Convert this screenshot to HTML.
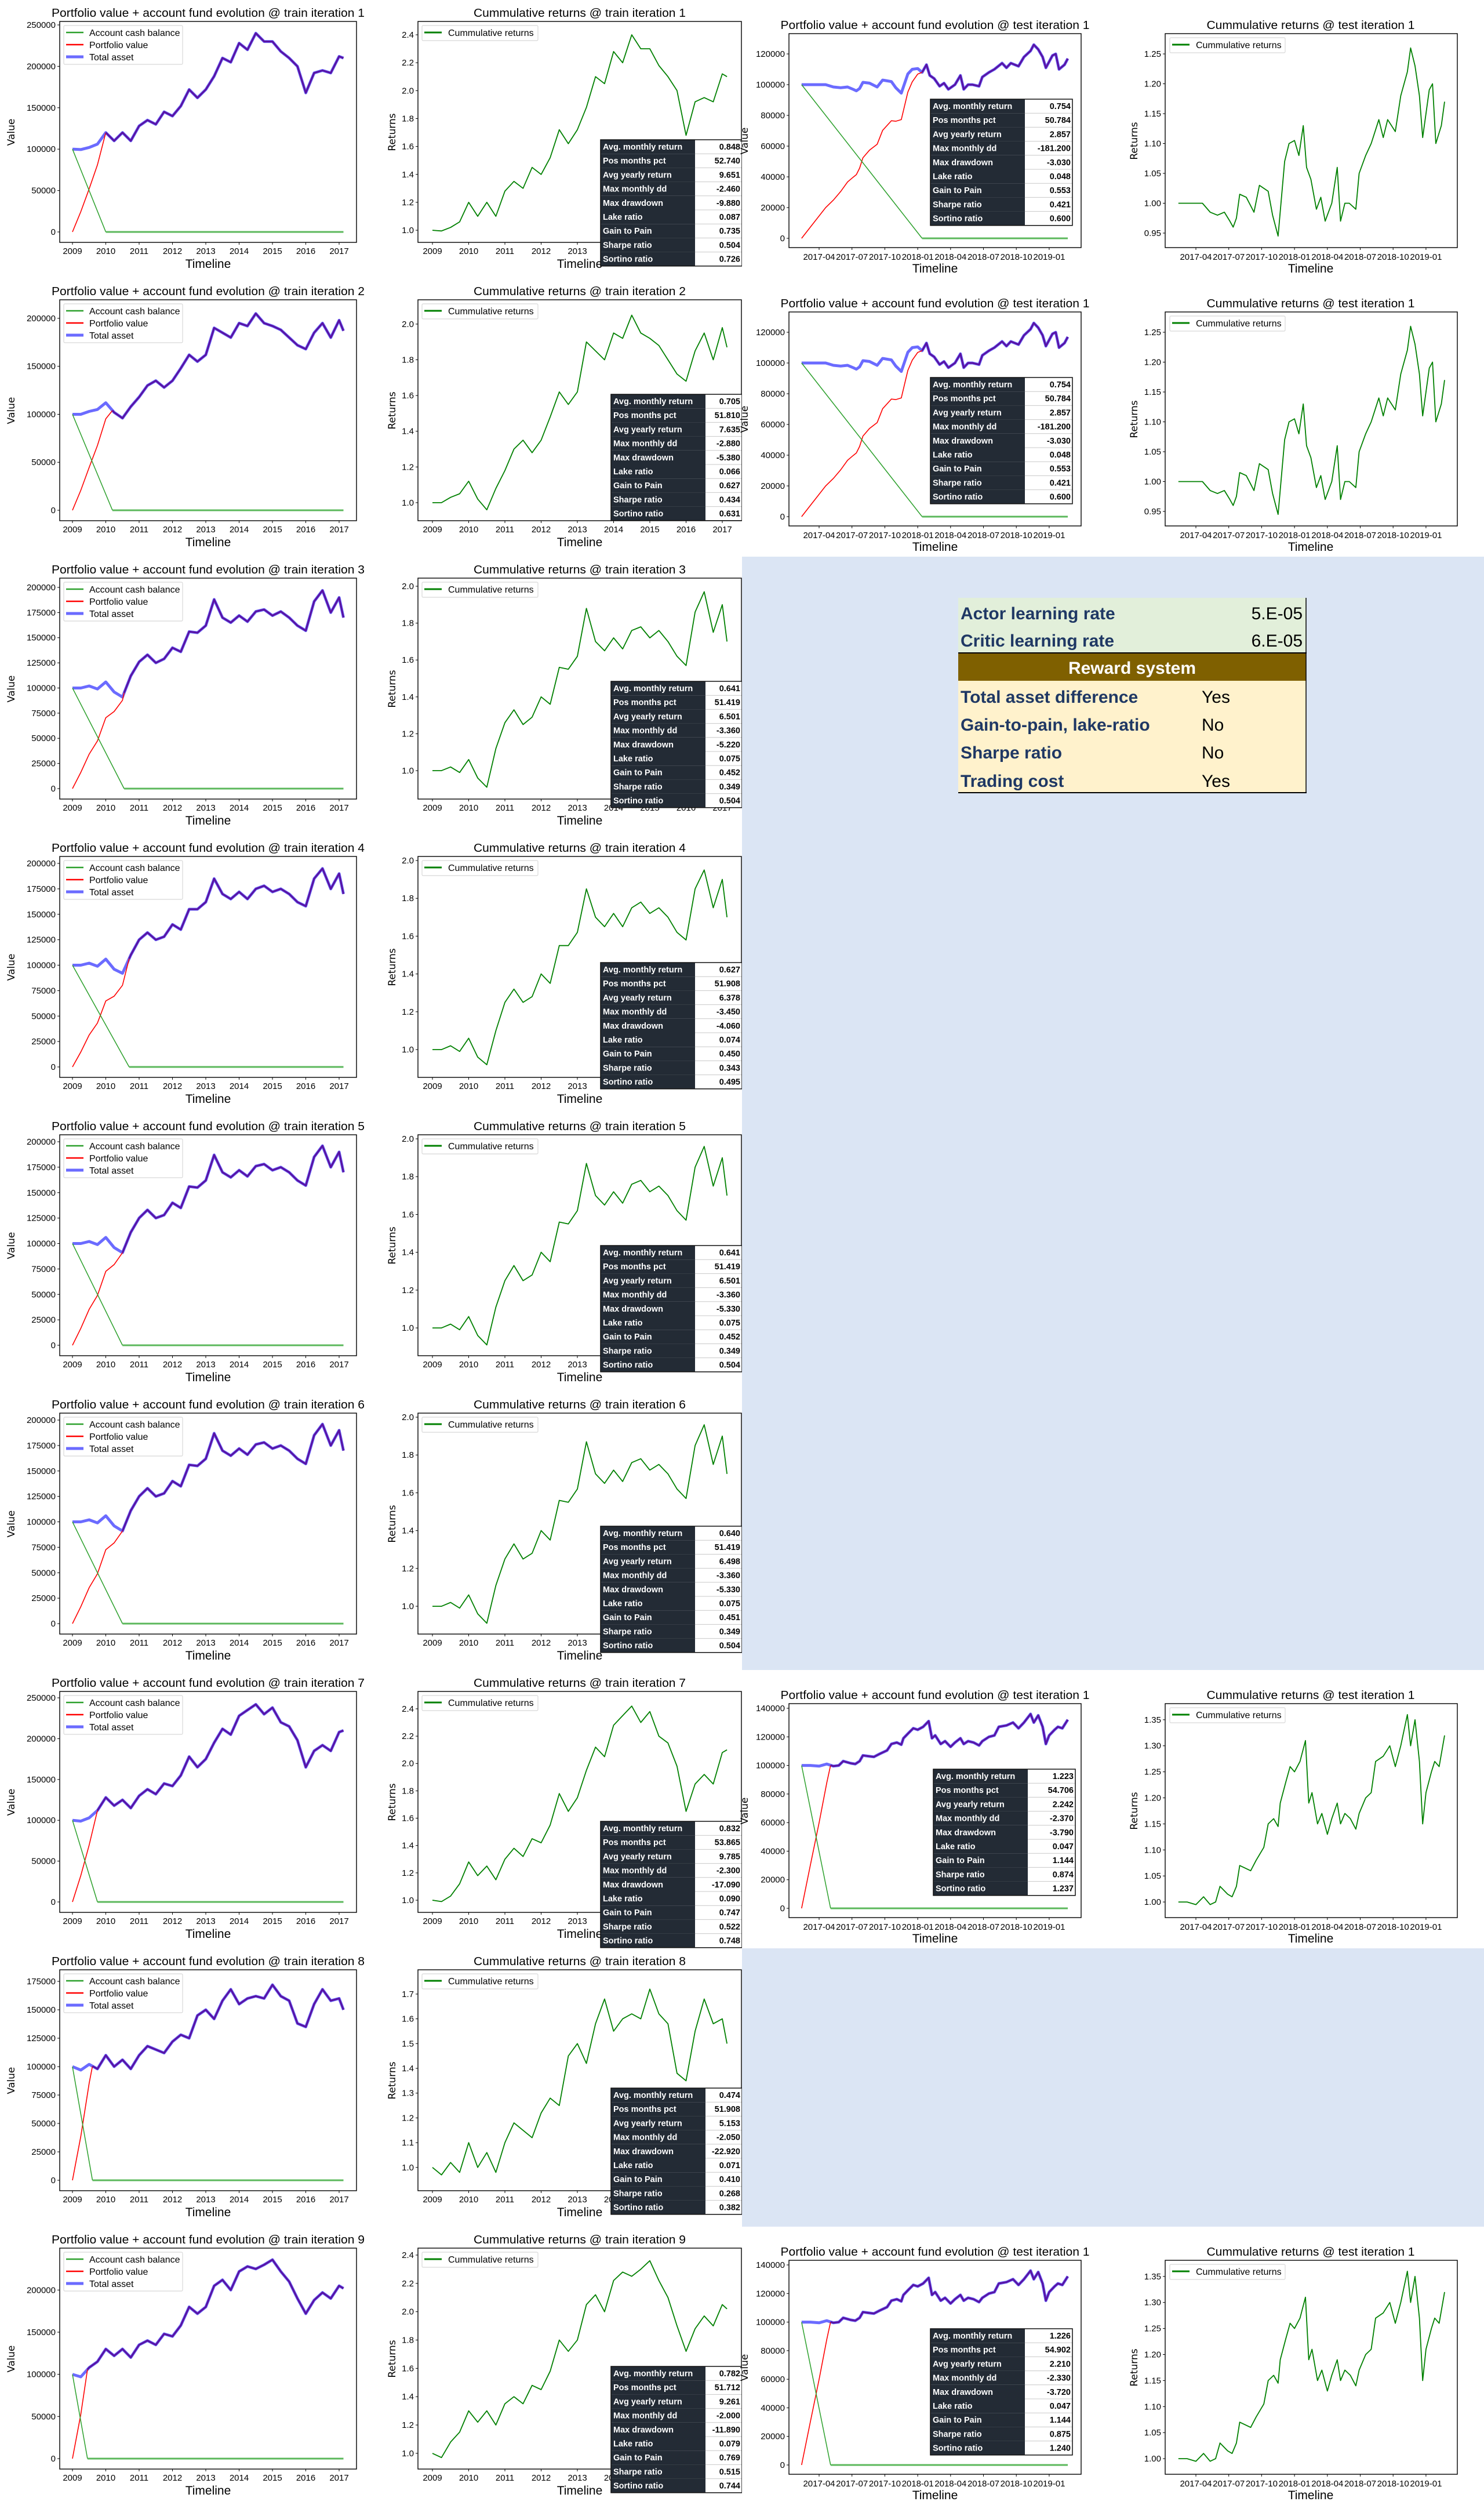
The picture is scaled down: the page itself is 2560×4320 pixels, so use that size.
<!DOCTYPE html>
<html><head><meta charset="utf-8"><title>Training results</title>
<style>
html,body{margin:0;padding:0;background:#fff;}
svg{display:block;}
</style></head>
<body>
<svg id="root" xmlns="http://www.w3.org/2000/svg" width="2560" height="4320" viewBox="0 0 2560 4320"></svg>
<script>
// ---------- DATA ----------
const trainDates = [2009,2009.25,2009.5,2009.75,2010,2010.25,2010.5,2010.75,2011,2011.25,2011.5,2011.75,2012,2012.25,2012.5,2012.75,2013,2013.25,2013.5,2013.75,2014,2014.25,2014.5,2014.75,2015,2015.25,2015.5,2015.75,2016,2016.25,2016.5,2016.75,2017,2017.13];
const returnsRow1 = [1.00,0.995,1.02,1.06,1.20,1.10,1.20,1.10,1.28,1.35,1.30,1.45,1.40,1.52,1.72,1.62,1.72,1.88,2.10,2.05,2.28,2.20,2.40,2.30,2.30,2.18,2.10,2.00,1.68,1.92,1.95,1.92,2.12,2.10];
const returnsRow2 = [1.00,1.00,1.03,1.05,1.12,1.02,0.96,1.08,1.18,1.30,1.35,1.28,1.35,1.48,1.62,1.55,1.62,1.90,1.85,1.80,1.95,1.92,2.05,1.95,1.92,1.88,1.80,1.72,1.68,1.85,1.95,1.80,1.98,1.87];
const returnsRow3 = [1.00,1.00,1.02,0.99,1.06,0.96,0.91,1.12,1.26,1.33,1.25,1.29,1.40,1.36,1.56,1.55,1.62,1.88,1.70,1.65,1.72,1.66,1.76,1.78,1.72,1.76,1.70,1.62,1.57,1.86,1.97,1.75,1.90,1.70];
const returnsRow4 = [1.00,1.00,1.02,0.99,1.06,0.96,0.92,1.10,1.25,1.32,1.25,1.28,1.40,1.35,1.55,1.55,1.62,1.85,1.70,1.65,1.72,1.65,1.75,1.78,1.72,1.75,1.70,1.62,1.58,1.85,1.95,1.75,1.90,1.70];
const returnsRow5 = [1.00,1.00,1.02,0.99,1.06,0.96,0.91,1.11,1.25,1.33,1.25,1.28,1.40,1.35,1.56,1.55,1.62,1.87,1.70,1.65,1.72,1.66,1.76,1.78,1.72,1.75,1.70,1.62,1.57,1.85,1.96,1.75,1.90,1.70];
const returnsRow6 = [1.00,1.00,1.02,0.99,1.06,0.96,0.91,1.11,1.25,1.33,1.25,1.28,1.40,1.35,1.56,1.55,1.62,1.87,1.70,1.65,1.72,1.66,1.76,1.78,1.72,1.75,1.70,1.62,1.57,1.85,1.96,1.75,1.90,1.70];
const returnsRow7 = [1.00,0.99,1.03,1.12,1.28,1.18,1.25,1.15,1.30,1.38,1.32,1.45,1.42,1.55,1.78,1.65,1.75,1.95,2.12,2.05,2.28,2.35,2.42,2.30,2.38,2.20,2.15,1.98,1.65,1.85,1.92,1.85,2.08,2.10];
const returnsRow8 = [1.00,0.97,1.02,0.98,1.10,1.00,1.06,0.98,1.10,1.18,1.15,1.12,1.22,1.28,1.25,1.45,1.50,1.42,1.58,1.68,1.55,1.60,1.62,1.60,1.72,1.62,1.58,1.38,1.35,1.55,1.68,1.58,1.60,1.50];
const returnsRow9 = [1.00,0.97,1.08,1.15,1.30,1.22,1.30,1.20,1.35,1.40,1.35,1.48,1.45,1.58,1.80,1.72,1.80,2.05,2.12,2.00,2.22,2.28,2.25,2.30,2.36,2.22,2.10,1.90,1.72,1.88,1.97,1.90,2.05,2.02];
const trainReturns = [returnsRow1,returnsRow2,returnsRow3,returnsRow4,returnsRow5,returnsRow6,returnsRow7,returnsRow8,returnsRow9];
const cashEndYear = [2010.0,2010.2,2010.55,2010.7,2010.5,2010.5,2009.75,2009.6,2009.45];

const testMonthsA = [1.4,2.6,3.6,4.3,4.97,5.6,6.1,6.4,6.7,7.0,7.6,8.3,8.8,9.6,10.0,10.5,11.1,11.5,12.0,12.4,12.8,13.1,13.5,14.0,14.4,14.8,15.4,15.9,16.2,16.6,17.0,17.6,17.9,18.5,19.0,19.7,20.1,20.5,21.2,21.7,22.3,22.6,23.0,23.4,23.7,24.3,24.6,24.9,25.4,25.7];
const testReturnsA = [1.00,1.00,1.00,0.985,0.98,0.985,0.97,0.96,0.975,1.015,1.01,0.985,1.03,1.02,0.98,0.945,1.07,1.10,1.105,1.08,1.13,1.06,1.04,0.99,1.01,0.97,1.00,1.06,0.97,1.00,1.00,0.99,1.05,1.08,1.10,1.14,1.11,1.14,1.12,1.18,1.22,1.26,1.23,1.18,1.11,1.19,1.20,1.10,1.13,1.17];
const testMonthsB = [1.4,2.2,3.0,3.7,4.3,4.8,5.2,5.9,6.3,6.7,7.0,7.5,8.0,8.5,9.2,9.6,10.1,10.5,10.7,11.2,11.6,12.0,12.5,13.0,13.3,13.6,14.1,14.5,15.0,15.4,15.9,16.2,16.6,17.1,17.6,17.9,18.5,19.0,19.4,20.1,20.7,21.2,21.7,22.3,22.6,23.0,23.4,23.7,24.0,24.5,24.8,25.2,25.7];
const testReturnsB = [1.00,1.00,0.995,1.01,0.995,1.00,1.03,1.015,1.01,1.03,1.07,1.065,1.06,1.08,1.105,1.15,1.16,1.145,1.19,1.23,1.26,1.25,1.27,1.31,1.19,1.21,1.15,1.17,1.13,1.16,1.19,1.15,1.17,1.16,1.14,1.17,1.20,1.21,1.27,1.28,1.30,1.26,1.30,1.36,1.30,1.35,1.27,1.15,1.21,1.25,1.27,1.26,1.32];
const testReturnsC = [1.00,1.00,0.995,1.01,0.995,1.00,1.03,1.015,1.01,1.03,1.07,1.065,1.06,1.08,1.105,1.15,1.16,1.145,1.19,1.23,1.26,1.25,1.27,1.31,1.19,1.21,1.15,1.17,1.13,1.16,1.19,1.15,1.17,1.16,1.14,1.17,1.20,1.21,1.27,1.28,1.30,1.26,1.30,1.36,1.30,1.35,1.27,1.15,1.21,1.25,1.27,1.26,1.32];
const testTickLabels = ['2017-04','2017-07','2017-10','2018-01','2018-04','2018-07','2018-10','2019-01'];
const testTickMonths = [3,6,9,12,15,18,21,24];
const trainTickYears = [2009,2010,2011,2012,2013,2014,2015,2016,2017];

const statLabels = ['Avg. monthly return','Pos months pct','Avg yearly return','Max monthly dd','Max drawdown','Lake ratio','Gain to Pain','Sharpe ratio','Sortino ratio'];
const statsRow1 = ['0.848','52.740','9.651','-2.460','-9.880','0.087','0.735','0.504','0.726'];
const statsRow2 = ['0.705','51.810','7.635','-2.880','-5.380','0.066','0.627','0.434','0.631'];
const statsRow3 = ['0.641','51.419','6.501','-3.360','-5.220','0.075','0.452','0.349','0.504'];
const statsRow4 = ['0.627','51.908','6.378','-3.450','-4.060','0.074','0.450','0.343','0.495'];
const statsRow5 = ['0.641','51.419','6.501','-3.360','-5.330','0.075','0.452','0.349','0.504'];
const statsRow6 = ['0.640','51.419','6.498','-3.360','-5.330','0.075','0.451','0.349','0.504'];
const statsRow7 = ['0.832','53.865','9.785','-2.300','-17.090','0.090','0.747','0.522','0.748'];
const statsRow8 = ['0.474','51.908','5.153','-2.050','-22.920','0.071','0.410','0.268','0.382'];
const statsRow9 = ['0.782','51.712','9.261','-2.000','-11.890','0.079','0.769','0.515','0.744'];
const trainStats = [statsRow1,statsRow2,statsRow3,statsRow4,statsRow5,statsRow6,statsRow7,statsRow8,statsRow9];
const testStatsA = ['0.754','50.784','2.857','-181.200','-3.030','0.048','0.553','0.421','0.600'];
const testStatsB = ['1.223','54.706','2.242','-2.370','-3.790','0.047','1.144','0.874','1.237'];
const testStatsC = ['1.226','54.902','2.210','-2.330','-3.720','0.047','1.144','0.875','1.240'];

// ---------- LAYOUT CONFIG ----------
const assetRange = [[-12600,254200],[-10877,219335],[-10375,209222],[-10256,206838],[-10256,206838],[-10256,206838],[-12784,257812],[-9184,185204],[-12371,249725]];
const assetStep = [50000,50000,25000,25000,25000,25000,50000,25000,50000];
const retRange = [[0.913,2.4956],[0.899,2.136],[0.846,2.044],[0.853,2.0215],[0.853,2.0215],[0.853,2.0215],[0.911,2.527],[0.906,1.798],[0.889,2.449]];
const retStep = [0.2,0.2,0.2,0.2,0.2,0.2,0.2,0.1,0.2];
const statX = [1036,1054,1054,1036,1036,1036,1036,1054,1054];
const statY = [241,200,215,220,228,232,261,241,241];

const NS = 'http://www.w3.org/2000/svg';
const NARROW = "'Liberation Sans Narrow','Liberation Sans',sans-serif";
const WIDE = "'DejaVu Sans','Liberation Sans',sans-serif";
const svg = document.getElementById('root');

function mk(tag, attrs, parent, name) {
  const e = document.createElementNS(NS, tag);
  for (const k in attrs) e.setAttribute(k, attrs[k]);
  
  
  parent.appendChild(e);
  return e;
}
function txt(parent, x, y, s, size, anchor, name, extra) {
  const a = {x:x, y:y, 'font-size':size, 'text-anchor':anchor||'start', 'font-family':NARROW, fill:'#000'};
  if (extra) for (const k in extra) a[k] = extra[k];
  const t = mk('text', a, parent, name);
  t.textContent = s;
  return t;
}
function pathFrom(xs, ys, sx, sy) {
  let d = '';
  for (let i = 0; i < xs.length; i++) d += (i ? 'L' : 'M') + sx(xs[i]).toFixed(1) + ',' + sy(ys[i]).toFixed(1);
  return d;
}
function fmtTick(v, step) {
  if (step >= 1) return String(Math.round(v));
  if (step >= 0.1 && Math.abs(step*10 - Math.round(step*10)) < 1e-9) return v.toFixed(1);
  return v.toFixed(2);
}
function yAxis(g, L, T, B, lo, hi, step, sy, name) {
  const start = Math.ceil((lo - 1e-9) / step) * step;
  for (let v = Math.max(start, step >= 1 ? 0 : start); v <= hi + 1e-9; v += step) {
    const y = sy(v);
    if (y < T - 0.5 || y > B + 0.5) continue;
    mk('line', {x1:L-4, x2:L, y1:y, y2:y, stroke:'#000', 'stroke-width':1}, g, name + '-tick');
    txt(g, L-7, y+5, fmtTick(v, step), 15, 'end', name + '-tick-label');
  }
}
function xAxis(g, B, ticks, labels, sx, ly, name) {
  for (let i = 0; i < ticks.length; i++) {
    const x = sx(ticks[i]);
    mk('line', {x1:x, x2:x, y1:B, y2:B+4, stroke:'#000', 'stroke-width':1}, g, name + '-tick');
    txt(g, x, ly, labels[i], 15, 'middle', name + '-tick-label');
  }
}
function frame(g, L, T, R, B, name) {
  mk('rect', {x:L, y:T, width:R-L, height:B-T, fill:'none', stroke:'#000', 'stroke-width':1.4}, g, name);
}
function statTable(g, x, y, w, labels, vals, name) {
  const h = 24.2, lw = 163;
  const tg = mk('g', {}, g, name);
  mk('rect', {x:x, y:y, width:w, height:h*9, fill:'#fff'}, tg, 'stats-background');
  for (let j = 0; j < labels.length; j++) {
    const yy = y + j*h;
    mk('rect', {x:x, y:yy, width:lw, height:h, fill:'#232b35'}, tg, 'stats-label-cell');
    mk('line', {x1:x+lw, x2:x+w, y1:yy+h, y2:yy+h, stroke:'#c8c8c8', 'stroke-width':1}, tg, 'stats-row-divider');
    txt(tg, x+4, yy+17, labels[j], 14.5, 'start', 'stats-label', {fill:'#fff','font-weight':'bold'});
    txt(tg, x+w-3, yy+17, vals[j], 14.5, 'end', 'stats-value', {'font-weight':'bold'});
  }
  mk('rect', {x:x, y:y, width:w, height:h*9, fill:'none', stroke:'#111', 'stroke-width':1.5}, tg, 'stats-border');
}
function legendReturns(g, x, y, w) {
  mk('rect', {x:x, y:y, width:w, height:26, fill:'#fff', stroke:'#d8d8d8', 'stroke-width':1.2, rx:2}, g, 'legend-box');
  mk('line', {x1:x+4, x2:x+34, y1:y+12, y2:y+12, stroke:'#008000', 'stroke-width':3}, g, 'legend-swatch-returns');
  txt(g, x+45, y+18, 'Cummulative returns', 16, 'start', 'legend-entry-returns');
}

// ---------- TRAIN ROWS ----------
for (let i = 0; i < 9; i++) {
  const oy = 480*i;
  const row = mk('g', {transform:'translate(0,' + oy + ')'}, svg, 'train-row-' + (i+1));
  const rets = trainReturns[i];
  const assets = rets.map(function(r){return r*100000;});
  // Asset chart
  const ga = mk('g', {}, row, 'portfolio-chart-train-' + (i+1));
  const L=103, R=615, T=37, B=418;
  const lo=assetRange[i][0], hi=assetRange[i][1];
  const sx = function(t){return 125 + (t-2009)*57.5;};
  const sy = function(v){return B - (v-lo)/(hi-lo)*(B-T);};
  txt(ga, 359, 29, 'Portfolio value + account fund evolution @ train iteration ' + (i+1), 20, 'middle', 'chart-title', {textLength:540, lengthAdjust:'spacingAndGlyphs'});
  const ce = cashEndYear[i];
  // interpolate asset at cash end
  let k = 0; while (k < trainDates.length-1 && trainDates[k+1] < ce) k++;
  const fr = (ce - trainDates[k])/(trainDates[k+1]-trainDates[k]);
  const aCe = assets[k] + (assets[k+1]-assets[k])*fr;
  const cash = function(t){return t <= ce ? 100000*(1-(t-2009)/(ce-2009)) : 0;};
  // blue total asset
  mk('path', {d:pathFrom(trainDates, assets, sx, sy), fill:'none', stroke:'#6b6bff', 'stroke-width':5, 'stroke-linejoin':'round'}, ga, 'total-asset-line');
  // red portfolio before cash end
  const px = [], pv = [];
  for (let j = 0; j <= k; j++) { px.push(trainDates[j]); pv.push(assets[j]-cash(trainDates[j])); }
  px.push(ce); pv.push(aCe);
  mk('path', {d:pathFrom(px, pv, sx, sy), fill:'none', stroke:'#ff0000', 'stroke-width':1.6}, ga, 'portfolio-value-line');
  // purple overlap after cash end
  const qx = [ce], qv = [aCe];
  for (let j = k+1; j < trainDates.length; j++) { qx.push(trainDates[j]); qv.push(assets[j]); }
  mk('path', {d:pathFrom(qx, qv, sx, sy), fill:'none', stroke:'#5a12a2', 'stroke-width':3, 'stroke-linejoin':'round'}, ga, 'portfolio-value-overlap');
  // cash
  mk('path', {d:pathFrom([2009, ce], [100000, 0], sx, sy), fill:'none', stroke:'#2ca02c', 'stroke-width':1.5}, ga, 'cash-balance-line');
  mk('path', {d:pathFrom([ce, trainDates[trainDates.length-1]], [0, 0], sx, sy), fill:'none', stroke:'#5cb85c', 'stroke-width':3}, ga, 'cash-balance-zero');
  frame(ga, L, T, R, B, 'plot-frame');
  yAxis(ga, L, T, B, lo, hi, assetStep[i], sy, 'y-axis');
  xAxis(ga, B, trainTickYears, trainTickYears.map(String), sx, 438, 'x-axis');
  txt(ga, 359, 462, 'Timeline', 21, 'middle', 'x-axis-title');
  txt(ga, 0, 0, 'Value', 17, 'middle', 'y-axis-title', {transform:'translate(25,228) rotate(-90)', 'font-family':WIDE});
  // legend
  mk('rect', {x:110, y:44, width:205, height:67, fill:'#fff', stroke:'#d8d8d8', 'stroke-width':1.2, rx:2}, ga, 'legend-box');
  mk('line', {x1:114, x2:144, y1:56, y2:56, stroke:'#2ca02c', 'stroke-width':2.5}, ga, 'legend-swatch-cash');
  txt(ga, 154, 62, 'Account cash balance', 16, 'start', 'legend-entry-cash');
  mk('line', {x1:114, x2:144, y1:77, y2:77, stroke:'#ff0000', 'stroke-width':2.5}, ga, 'legend-swatch-portfolio');
  txt(ga, 154, 83, 'Portfolio value', 16, 'start', 'legend-entry-portfolio');
  mk('line', {x1:114, x2:144, y1:98, y2:98, stroke:'#6b6bff', 'stroke-width':5}, ga, 'legend-swatch-total');
  txt(ga, 154, 104, 'Total asset', 16, 'start', 'legend-entry-total');

  // Returns chart
  const gr = mk('g', {}, row, 'returns-chart-train-' + (i+1));
  const L2=721, R2=1279;
  const rlo=retRange[i][0], rhi=retRange[i][1];
  const sx2 = function(t){return 746 + (t-2009)*62.5;};
  const sy2 = function(v){return B - (v-rlo)/(rhi-rlo)*(B-T);};
  txt(gr, 1000, 29, 'Cummulative returns @ train iteration ' + (i+1), 20, 'middle', 'chart-title', {textLength:366, lengthAdjust:'spacingAndGlyphs'});
  mk('path', {d:pathFrom(trainDates, rets, sx2, sy2), fill:'none', stroke:'#008000', 'stroke-width':1.8, 'stroke-linejoin':'round'}, gr, 'returns-line');
  frame(gr, L2, T, R2, B, 'plot-frame');
  yAxis(gr, L2, T, B, rlo, rhi, retStep[i], sy2, 'y-axis');
  xAxis(gr, B, trainTickYears, trainTickYears.map(String), sx2, 438, 'x-axis');
  txt(gr, 1000, 462, 'Timeline', 21, 'middle', 'x-axis-title');
  txt(gr, 0, 0, 'Returns', 17, 'middle', 'y-axis-title', {transform:'translate(682,228) rotate(-90)', 'font-family':WIDE});
  legendReturns(gr, 728, 44, 200);
  statTable(gr, statX[i], statY[i], 1280-statX[i], statLabels, trainStats[i], 'stats-table');
}

// ---------- BLUE PANELS ----------
mk('rect', {x:1280, y:960, width:1280, height:1920, fill:'#dbe5f4'}, svg, 'info-panel');
mk('rect', {x:1280, y:3360, width:1280, height:480, fill:'#dbe5f4'}, svg, 'blank-panel');
(function(){
  const g = mk('g', {}, svg, 'settings-table');
  mk('rect', {x:1653, y:1031, width:600, height:96, fill:'#e2efda'}, g, 'learning-rate-section');
  mk('rect', {x:1653, y:1127, width:600, height:47, fill:'#7f6000'}, g, 'reward-header');
  mk('rect', {x:1653, y:1174, width:600, height:193, fill:'#fff2cc'}, g, 'reward-section');
  mk('line', {x1:1653, x2:2254, y1:1126, y2:1126, stroke:'#000', 'stroke-width':2}, g, 'divider');
  mk('line', {x1:1653, x2:2254, y1:1367, y2:1367, stroke:'#000', 'stroke-width':2}, g, 'bottom-border');
  mk('line', {x1:2253, x2:2253, y1:1031, y2:1368, stroke:'#000', 'stroke-width':1.5}, g, 'right-border');
  const navy = '#1f3864';
  const B = {'font-weight':'bold', fill:navy};
  txt(g, 1657, 1068, 'Actor learning rate', 30, 'start', 'actor-lr-label', B);
  txt(g, 2247, 1068, '5.E-05', 30, 'end', 'actor-lr-value');
  txt(g, 1657, 1115, 'Critic learning rate', 30, 'start', 'critic-lr-label', B);
  txt(g, 2247, 1115, '6.E-05', 30, 'end', 'critic-lr-value');
  txt(g, 1953, 1162, 'Reward system', 30, 'middle', 'reward-system-title', {'font-weight':'bold', fill:'#fff'});
  const rl = ['Total asset difference','Gain-to-pain, lake-ratio','Sharpe ratio','Trading cost'];
  const rv = ['Yes','No','No','Yes'];
  const by = [1212,1260,1308,1357];
  for (let j = 0; j < 4; j++) {
    txt(g, 1657, by[j], rl[j], 30, 'start', 'reward-label', B);
    txt(g, 2073, by[j], rv[j], 30, 'start', 'reward-value');
  }
})();

// ---------- TEST ROWS ----------
const testRows = [0,1,6,8];
const testMonthsList = [testMonthsA,testMonthsA,testMonthsB,testMonthsB];
const testReturnsList = [testReturnsA,testReturnsA,testReturnsB,testReturnsC];
const testStatsList = [testStatsA,testStatsA,testStatsB,testStatsC];
const testCashEnd = [12.4,12.4,4.05,4.05];
const testAssetRange = [[-6038,133208],[-6038,133208],[-6493,143246],[-6493,143246]];
const testRetRange = [[0.9257,1.284],[0.9257,1.284],[0.970,1.381],[0.970,1.381]];
const testStatPos = [[1605,171],[1605,171],[1610,171],[1605,176]];
for (let n = 0; n < 4; n++) {
  const oy = 480*testRows[n];
  const row = mk('g', {transform:'translate(0,' + oy + ')'}, svg, 'test-row-' + (n+1));
  mk('rect', {x:1280, y:0, width:1280, height:480, fill:'#fff'}, row, 'test-background');
  const ms = testMonthsList[n], rs = testReturnsList[n];
  const av = rs.map(function(r){return r*100000;});
  const T=58, B=427;
  // asset
  const ga = mk('g', {}, row, 'portfolio-chart-test');
  const L=1361, R=1865;
  const lo=testAssetRange[n][0], hi=testAssetRange[n][1];
  const sx = function(m){return 1413 + (m-3)*18.9;};
  const sy = function(v){return B - (v-lo)/(hi-lo)*(B-T);};
  txt(ga, 1613, 50, 'Portfolio value + account fund evolution @ test iteration 1', 20, 'middle', 'chart-title', {textLength:533, lengthAdjust:'spacingAndGlyphs'});
  txt(ga, 0, 0, 'Value', 17, 'middle', 'y-axis-title', {transform:'translate(1290,243) rotate(-90)', 'font-family':WIDE});
  const ce = testCashEnd[n];
  let k = 0; while (k < ms.length-1 && ms[k+1] < ce) k++;
  const fr = (ce - ms[k])/(ms[k+1]-ms[k]);
  const aCe = av[k] + (av[k+1]-av[k])*fr;
  const m0 = ms[0];
  const cash = function(m){return m <= ce ? 100000*(1-(m-m0)/(ce-m0)) : 0;};
  mk('path', {d:pathFrom(ms, av, sx, sy), fill:'none', stroke:'#6b6bff', 'stroke-width':5, 'stroke-linejoin':'round'}, ga, 'total-asset-line');
  const px=[], pv=[];
  for (let j = 0; j <= k; j++) { px.push(ms[j]); pv.push(av[j]-cash(ms[j])); }
  px.push(ce); pv.push(aCe);
  mk('path', {d:pathFrom(px, pv, sx, sy), fill:'none', stroke:'#ff0000', 'stroke-width':1.6}, ga, 'portfolio-value-line');
  const qx=[ce], qv=[aCe];
  for (let j = k+1; j < ms.length; j++) { qx.push(ms[j]); qv.push(av[j]); }
  mk('path', {d:pathFrom(qx, qv, sx, sy), fill:'none', stroke:'#5a12a2', 'stroke-width':3, 'stroke-linejoin':'round'}, ga, 'portfolio-value-overlap');
  mk('path', {d:pathFrom([m0, ce], [100000, 0], sx, sy), fill:'none', stroke:'#2ca02c', 'stroke-width':1.5}, ga, 'cash-balance-line');
  mk('path', {d:pathFrom([ce, ms[ms.length-1]], [0, 0], sx, sy), fill:'none', stroke:'#5cb85c', 'stroke-width':3}, ga, 'cash-balance-zero');
  frame(ga, L, T, R, B, 'plot-frame');
  yAxis(ga, L, T, B, lo, hi, 20000, sy, 'y-axis');
  xAxis(ga, B, testTickMonths, testTickLabels, sx, 448, 'x-axis');
  txt(ga, 1613, 470, 'Timeline', 21, 'middle', 'x-axis-title');
  statTable(ga, testStatPos[n][0], testStatPos[n][1], 245, statLabels, testStatsList[n], 'stats-table');
  // returns
  const gr = mk('g', {}, row, 'returns-chart-test');
  const L2=2010, R2=2514;
  const rlo=testRetRange[n][0], rhi=testRetRange[n][1];
  const sx2 = function(m){return 2063 + (m-3)*18.9;};
  const sy2 = function(v){return B - (v-rlo)/(rhi-rlo)*(B-T);};
  txt(gr, 2261, 50, 'Cummulative returns @ test iteration 1', 20, 'middle', 'chart-title', {textLength:359, lengthAdjust:'spacingAndGlyphs'});
  mk('path', {d:pathFrom(ms, rs, sx2, sy2), fill:'none', stroke:'#008000', 'stroke-width':1.8, 'stroke-linejoin':'round'}, gr, 'returns-line');
  frame(gr, L2, T, R2, B, 'plot-frame');
  yAxis(gr, L2, T, B, rlo, rhi, 0.05, sy2, 'y-axis');
  xAxis(gr, B, testTickMonths, testTickLabels, sx2, 448, 'x-axis');
  txt(gr, 2261, 470, 'Timeline', 21, 'middle', 'x-axis-title');
  txt(gr, 0, 0, 'Returns', 17, 'middle', 'y-axis-title', {transform:'translate(1962,243) rotate(-90)', 'font-family':WIDE});
  legendReturns(gr, 2018, 65, 199);
}
</script>
</body></html>
